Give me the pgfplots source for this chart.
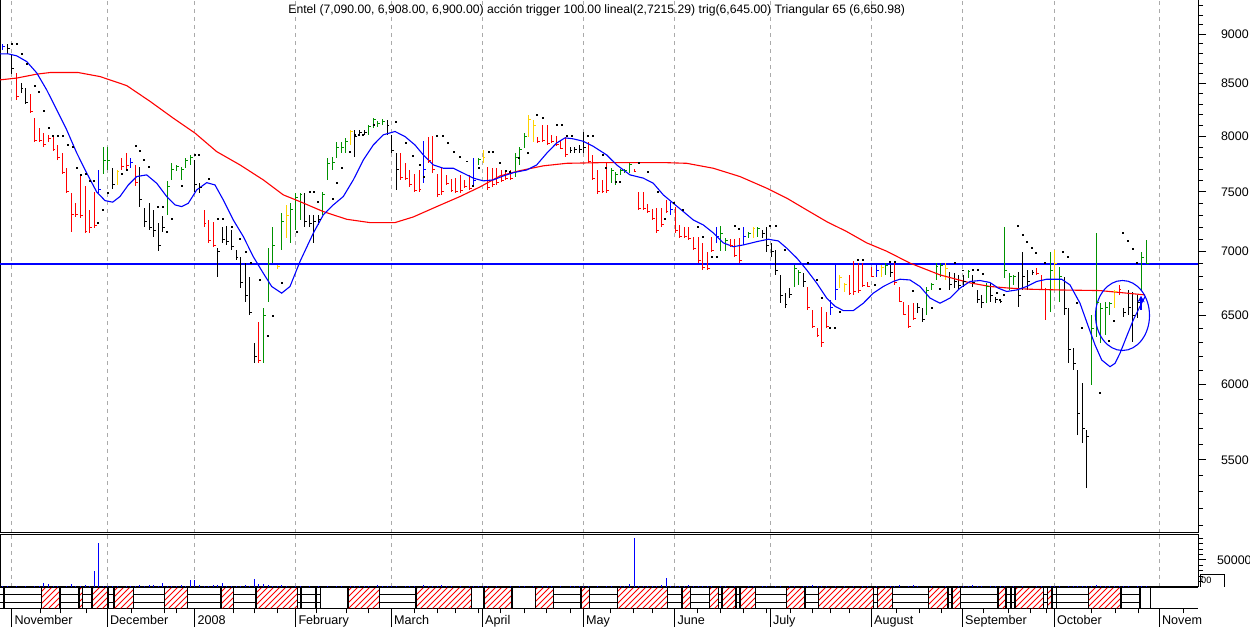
\documentclass[border=0pt]{standalone}
\usepackage{fontspec}
\setmainfont{Liberation Sans}
\usepackage{pgfplots}
\pgfplotsset{compat=1.18}
\usetikzlibrary{patterns,arrows.meta}
\definecolor{cgreen}{RGB}{0,145,0}
\definecolor{cyell}{RGB}{255,210,0}
\definecolor{cblue}{RGB}{0,0,255}
\definecolor{cred}{RGB}{255,0,0}
\definecolor{cgrid}{RGB}{170,170,170}
\pgfdeclareplotmark{rtick}{\pgfpathmoveto{\pgfqpoint{0pt}{0pt}}\pgfpathlineto{\pgfqpoint{1.2pt}{0pt}}\pgfusepathqstroke}
\pgfplotsset{
  barseg/.style={#1, line width=0.5pt, forget plot},
  barcls/.style={#1, only marks, mark=rtick, mark options={line width=0.5pt, #1}, forget plot},
}
\tikzset{mlab/.style={anchor=north west, inner sep=0pt, font=\fontsize{6.3}{7}\selectfont, xshift=1.2pt, yshift=-3.4pt}}
\begin{document}
\begin{tikzpicture}
\useasboundingbox (0,0) rectangle (625pt,313.5pt);
% ---------------- main price panel
\begin{axis}[
  at={(0pt,47pt)}, anchor=south west, scale only axis, width=599pt, height=266.5pt,
  xmin=0, xmax=1198, ymode=log, ymin=5054, ymax=9365,
  unbounded coords=jump,
  axis line style={line width=0.5pt},
  xtick={11.7,107.3,194.7,295.7,391.3,482.3,583.3,674.7,770.3,871.3,962.3,1054.3,1159.3},
  xticklabels={}, xmajorgrids,
  major x grid style={cgrid, line width=0.5pt, dash pattern=on 2pt off 2pt},
  x tick style={draw=none},
  ytick={5500,6000,6500,7000,7500,8000,8500,9000},
  yticklabels={5500,6000,6500,7000,7500,8000,8500,9000},
  minor ytick={5100,5200,5300,5400,5600,5700,5800,5900,6100,6200,6300,6400,6600,6700,6800,6900,7100,7200,7300,7400,7600,7700,7800,7900,8100,8200,8300,8400,8600,8700,8800,8900,9100,9200,9300},
  ytick pos=right, yticklabel pos=right, tick align=outside,
  y tick style={black, line width=0.5pt}, major tick length=4pt, minor tick length=2.5pt,
  yticklabel style={font=\fontsize{6.2}{7}\selectfont, anchor=west, xshift=4pt},
]
% horizontal line
\addplot[cblue, line width=0.7pt, forget plot] coordinates {(0,6900)(1198,6900)};
% stop-and-reverse dots
\addplot[black, only marks, mark=square*, mark size=0.24pt, forget plot] coordinates {
(12.3,8900)(16.7,8900)(21.7,8800)(26.7,8700)(35,8480)(39.3,8420)(44.3,8240)(48.7,8074)(53.3,8002)
(58.3,8002)(63.3,8002)(67.7,7919)(72.7,7903)(76.7,7708)(81,7649)(85.7,7658)(90,7598)(94.3,7598)
(98.3,7235)(103.3,7345)(107.7,7494)(121.7,7655)(126.7,7693)(135.7,7910)(140,7864)(144.3,7782)
(149.3,7723)(158.3,7373)(162.7,7373)(167.3,7160)(172.3,7273)(181.7,7554)(195,7828)(199.3,7828)
(209.3,7611)(218.3,7273)(222.7,7273)(231.7,7204)(240,7100)(246,7000)(250.7,6908)(260,6773)
(268.3,6350)(272.7,6497)(281.7,6747)(296.7,7160)(310,7497)(314,7497)(318.3,7410)(333.3,7436)
(336.7,7575)(341.7,7708)(350,7858)(355,8011)(359.3,8011)(363.3,8011)(374,8104)(396,8135)
(406,7935)(413.3,7819)(420,7738)(424,7629)(436.7,8002)(442.7,8002)(447.7,7935)(454,7858)
(460,7808)(466.7,7769)(473.3,7552)(478.7,7708)(489,7858)(493.3,7858)(500,7753)(505.7,7688)
(510,7679)(519,7801)(528.3,7844)(536.7,8198)(543.3,8167)(556.7,8104)(561.7,8104)(566.7,8005)
(571.7,8005)(588.3,8002)(593.3,8002)(603.3,7828)(606,7708)(616,7590)(620,7590)(639.3,7753)
(648.3,7673)(658.3,7497)(665,7273)(674,7402)(683.3,7345)(698.3,7204)(702.7,7122)(711.7,6958)
(716.7,6953)(735,7210)(739.3,7183)(770,7210)(776,7210)(785,7013)(808.3,6908)(816.7,6773)
(821.7,6632)(830,6405)(835,6405)(840,6530)(858.3,6932)(863.3,6932)(875,6734)(890,6913)(895,6913)
(912.7,6688)(931.7,6555)(940,6703)(955,6906)(962.7,6848)(973.3,6852)(978.3,6852)(982.7,6819)
(997.3,6672)(1000,6615)(1004,6657)(1018.3,7210)(1023.3,7136)(1027.3,7074)(1032.3,7029)(1036,6989)
(1045,6908)(1063.3,7000)(1067.7,6953)(1077.3,6595)(1081.7,6405)(1100,5945)(1109.3,6312)(1114.3,6460)
(1123.3,7149)(1128.3,7082)(1133.3,7019)(1137.3,6908)};
% red bars
\addplot[barseg=cred] table[x expr=2.7+4.575*(\thisrow{n}-1), y=y, row sep=\\]{n y\\
4 8342\\4 8607\\4 nan\\7 8217\\7 8400\\7 nan\\8 7946\\8 8170\\8 nan\\9 7946\\9 8076\\9 nan\\
10 7901\\10 8030\\10 nan\\11 7946\\11 8011\\11 nan\\12 7864\\12 7993\\12 nan\\13 7782\\13 7919\\13 nan\\
14 7658\\14 7846\\14 nan\\15 7491\\15 7711\\15 nan\\16 7160\\16 7491\\16 nan\\17 7286\\17 7405\\17 nan\\
18 7277\\18 7649\\18 nan\\19 7152\\19 7552\\19 nan\\20 7152\\20 7345\\20 nan\\21 7194\\21 7500\\21 nan\\
27 7693\\27 7801\\27 nan\\28 7702\\28 7846\\28 nan\\30 7552\\30 7738\\30 nan\\45 7202\\45 7345\\45 nan\\
46 7070\\46 7260\\46 nan\\47 7037\\47 7244\\47 nan\\57 6153\\57 6452\\57 nan\\88 7604\\88 7846\\88 nan\\
89 7604\\89 7756\\89 nan\\90 7543\\90 7693\\90 nan\\91 7500\\91 7658\\91 nan\\92 7500\\92 7693\\92 nan\\
94 7756\\94 7993\\94 nan\\95 7666\\95 8002\\95 nan\\96 7457\\96 7658\\96 nan\\97 7474\\97 7720\\97 nan\\
98 7560\\98 7649\\98 nan\\99 7500\\99 7614\\99 nan\\100 7491\\100 7622\\100 nan\\101 7491\\101 7649\\101 nan\\
102 7535\\102 7604\\102 nan\\103 7517\\103 7649\\103 nan\\107 7517\\107 7720\\107 nan\\108 7543\\108 7711\\108 nan\\
109 7560\\109 7711\\109 nan\\110 7587\\110 7693\\110 nan\\111 7604\\111 7675\\111 nan\\112 7604\\112 7693\\112 nan\\
118 7937\\118 7993\\118 nan\\119 7946\\119 8104\\119 nan\\120 7919\\120 8104\\120 nan\\121 7937\\121 8011\\121 nan\\
122 7910\\122 8002\\122 nan\\123 7883\\123 7965\\123 nan\\124 7810\\124 7993\\124 nan\\129 7756\\129 7946\\129 nan\\
130 7604\\130 7828\\130 nan\\131 7482\\131 7693\\131 nan\\132 7491\\132 7604\\132 nan\\133 7491\\133 7756\\133 nan\\
139 7675\\139 7702\\139 nan\\140 7345\\140 7500\\140 nan\\141 7345\\141 7500\\141 nan\\142 7320\\142 7396\\142 nan\\
143 7260\\143 7353\\143 nan\\144 7152\\144 7362\\144 nan\\145 7202\\145 7362\\145 nan\\146 7320\\146 7430\\146 nan\\
148 7152\\148 7370\\148 nan\\149 7111\\149 7219\\149 nan\\150 7111\\150 7202\\150 nan\\151 7094\\151 7202\\151 nan\\
152 7013\\152 7119\\152 nan\\153 6908\\153 7119\\153 nan\\154 6852\\154 7070\\154 nan\\155 6852\\155 6997\\155 nan\\
156 6997\\156 7119\\156 nan\\160 7037\\160 7102\\160 nan\\161 6956\\161 7102\\161 nan\\162 6908\\162 7111\\162 nan\\
177 6542\\177 6719\\177 nan\\178 6408\\178 6542\\178 nan\\179 6342\\179 6408\\179 nan\\180 6268\\180 6565\\180 nan\\
181 6408\\181 6527\\181 nan\\186 6657\\186 6813\\186 nan\\187 6657\\187 6924\\187 nan\\188 6672\\188 6908\\188 nan\\
189 6719\\189 6908\\189 nan\\190 6719\\190 6758\\190 nan\\191 6797\\191 6876\\191 nan\\196 6734\\196 6908\\196 nan\\
197 6603\\197 6719\\197 nan\\198 6505\\198 6603\\198 nan\\199 6408\\199 6580\\199 nan\\200 6467\\200 6595\\200 nan\\
227 6813\\227 6868\\227 nan\\228 6695\\228 6813\\228 nan\\229 6467\\229 6711\\229 nan\\245 6657\\245 6734\\245 nan\\
};
\addplot[barcls=cred] table[x expr=2.7+4.575*(\thisrow{n}-1), y=c, row sep=\\]{n c\\
4 8370\\7 8230\\8 7960\\9 7960\\10 7920\\11 7980\\12 7880\\13 7800\\14 7670\\15 7500\\16 7303\\17 7310\\
18 7300\\19 7160\\20 7200\\21 7210\\27 7720\\28 7730\\30 7580\\45 7230\\46 7090\\47 7050\\57 6170\\88 7630\\
89 7620\\90 7560\\91 7510\\92 7520\\94 7780\\95 7700\\96 7480\\97 7500\\98 7570\\99 7510\\100 7500\\101 7510\\
102 7550\\103 7530\\107 7540\\108 7560\\109 7580\\110 7600\\111 7620\\112 7620\\118 7950\\119 7960\\120 7930\\
121 7950\\122 7920\\123 7890\\124 7830\\129 7770\\130 7620\\131 7500\\132 7500\\133 7510\\139 7680\\140 7360\\
141 7360\\142 7330\\143 7270\\144 7170\\145 7220\\146 7330\\148 7170\\149 7120\\150 7120\\151 7110\\152 7020\\
153 6930\\154 6870\\155 6860\\156 7010\\160 7045\\161 6970\\162 6930\\177 6560\\178 6420\\179 6350\\180 6300\\
181 6420\\186 6670\\187 6680\\188 6690\\189 6730\\190 6725\\191 6800\\196 6750\\197 6610\\198 6510\\199 6420\\
200 6480\\227 6820\\228 6700\\229 6700\\245 6700\\
};
% black bars
\addplot[barseg=black] table[x expr=2.7+4.575*(\thisrow{n}-1), y=y, row sep=\\]{n y\\
2 8798\\2 8901\\2 nan\\3 8597\\3 8798\\3 nan\\5 8410\\5 8508\\5 nan\\6 8303\\6 8459\\6 nan\\
25 7526\\25 7711\\25 nan\\31 7370\\31 7720\\31 nan\\32 7202\\32 7362\\32 nan\\33 7177\\33 7405\\33 nan\\
34 7119\\34 7345\\34 nan\\35 7005\\35 7235\\35 nan\\36 7160\\36 7294\\36 nan\\43 7500\\43 7782\\43 nan\\
44 7491\\44 7578\\44 nan\\48 6797\\48 7029\\48 nan\\49 7070\\49 7202\\49 nan\\50 7053\\50 7210\\50 nan\\
51 7013\\51 7177\\51 nan\\52 6932\\52 7013\\52 nan\\53 6711\\53 6956\\53 nan\\54 6603\\54 6908\\54 nan\\
55 6505\\55 6797\\55 nan\\56 6153\\56 6297\\56 nan\\67 7202\\67 7491\\67 nan\\68 7202\\68 7303\\68 nan\\
69 7070\\69 7303\\69 nan\\70 7219\\70 7303\\70 nan\\78 7810\\78 8057\\78 nan\\79 8002\\79 8057\\79 nan\\
80 8011\\80 8057\\80 nan\\85 8011\\85 8151\\85 nan\\86 7846\\86 8011\\86 nan\\87 7517\\87 7846\\87 nan\\
125 7846\\125 7901\\125 nan\\126 7846\\126 7901\\126 nan\\127 7846\\127 7919\\127 nan\\128 7846\\128 8039\\128 nan\\
167 7111\\167 7177\\167 nan\\168 6997\\168 7202\\168 nan\\169 6956\\169 7070\\169 nan\\170 6813\\170 7013\\170 nan\\
171 6595\\171 6813\\171 nan\\172 6557\\172 6672\\172 nan\\173 6634\\173 6711\\173 nan\\176 6719\\176 6829\\176 nan\\
195 6797\\195 6892\\195 nan\\201 6520\\201 6595\\201 nan\\202 6452\\202 6557\\202 nan\\208 6695\\208 6837\\208 nan\\
209 6711\\209 6829\\209 nan\\210 6695\\210 6813\\210 nan\\211 6719\\211 6813\\211 nan\\213 6719\\213 6813\\213 nan\\
214 6595\\214 6695\\214 nan\\215 6557\\215 6657\\215 nan\\217 6603\\217 6750\\217 nan\\218 6595\\218 6641\\218 nan\\
219 6595\\219 6618\\219 nan\\223 6565\\223 6837\\223 nan\\224 6695\\224 6997\\224 nan\\225 6695\\225 6852\\225 nan\\
226 6813\\226 6852\\226 nan\\233 6505\\233 6797\\233 nan\\234 6153\\234 6557\\234 nan\\235 6103\\235 6261\\235 nan\\
236 5660\\236 6103\\236 nan\\237 5608\\237 6013\\237 nan\\238 5323\\238 5693\\238 nan\\246 6490\\246 6557\\246 nan\\
247 6505\\247 6695\\247 nan\\248 6304\\248 6680\\248 nan\\249 6482\\249 6657\\249 nan\\
};
\addplot[barcls=black] table[x expr=2.7+4.575*(\thisrow{n}-1), y=c, row sep=\\]{n c\\
2 8850\\3 8650\\5 8450\\6 8320\\25 7560\\31 7430\\32 7250\\33 7200\\34 7170\\35 7050\\36 7200\\43 7560\\
44 7540\\48 7000\\49 7100\\50 7080\\51 7040\\52 6950\\53 6750\\54 6650\\55 6520\\56 6200\\67 7250\\68 7230\\
69 7250\\70 7260\\78 8000\\79 8030\\80 8030\\85 8100\\86 7870\\87 7700\\125 7870\\126 7880\\127 7880\\128 7900\\
167 7150\\168 7050\\169 7000\\170 6850\\171 6650\\172 6580\\173 6660\\176 6760\\195 6830\\201 6560\\202 6470\\
208 6740\\209 6760\\210 6730\\211 6760\\213 6750\\214 6620\\215 6600\\217 6650\\218 6620\\219 6610\\223 6650\\
224 6800\\225 6760\\226 6830\\233 6550\\234 6250\\235 6150\\236 5800\\237 5700\\238 5650\\246 6520\\247 6560\\
248 6500\\249 6600\\
};
% green bars
\addplot[barseg=cgreen] table[x expr=2.7+4.575*(\thisrow{n}-1), y=y, row sep=\\]{n y\\
23 7658\\23 7901\\23 nan\\24 7693\\24 7901\\24 nan\\37 7303\\37 7596\\37 nan\\38 7604\\38 7756\\38 nan\\
39 7684\\39 7738\\39 nan\\40 7604\\40 7720\\40 nan\\41 7711\\41 7801\\41 nan\\42 7738\\42 7828\\42 nan\\
58 6153\\58 6557\\58 nan\\59 6603\\59 7029\\59 nan\\60 6908\\60 7202\\60 nan\\62 7013\\62 7320\\62 nan\\
64 7070\\64 7405\\64 nan\\65 7177\\65 7491\\65 nan\\66 7260\\66 7491\\66 nan\\71 7303\\71 7500\\71 nan\\
72 7604\\72 7801\\72 nan\\73 7693\\73 7810\\73 nan\\74 7801\\74 7946\\74 nan\\75 7846\\75 7946\\75 nan\\
76 7846\\76 7983\\76 nan\\81 8011\\81 8104\\81 nan\\82 8076\\82 8170\\82 nan\\83 8085\\83 8142\\83 nan\\
84 8104\\84 8161\\84 nan\\105 7738\\105 7801\\105 nan\\113 7631\\113 7846\\113 nan\\114 7738\\114 7901\\114 nan\\
115 7892\\115 8030\\115 nan\\134 7578\\134 7711\\134 nan\\135 7560\\135 7675\\135 nan\\136 7649\\136 7702\\136 nan\\
137 7666\\137 7702\\137 nan\\138 7666\\138 7756\\138 nan\\158 7005\\158 7210\\158 nan\\159 7005\\159 7111\\159 nan\\
164 7111\\164 7160\\164 nan\\166 7119\\166 7202\\166 nan\\174 6719\\174 6892\\174 nan\\175 6734\\175 6852\\175 nan\\
194 6813\\194 6908\\194 nan\\203 6505\\203 6719\\203 nan\\204 6695\\204 6750\\204 nan\\205 6773\\205 6908\\205 nan\\
206 6797\\206 6908\\206 nan\\212 6789\\212 6852\\212 nan\\216 6595\\216 6750\\216 nan\\220 6789\\220 7202\\220 nan\\
221 6695\\221 6829\\221 nan\\222 6734\\222 6813\\222 nan\\230 6527\\230 6997\\230 nan\\232 6603\\232 6876\\232 nan\\
239 6000\\239 6505\\239 nan\\240 6342\\240 7152\\240 nan\\241 6297\\241 6595\\241 nan\\242 6356\\242 6603\\242 nan\\
243 6505\\243 6603\\243 nan\\250 6695\\250 6997\\250 nan\\251 6900\\251 7094\\251 nan\\
};
\addplot[barcls=cgreen] table[x expr=2.7+4.575*(\thisrow{n}-1), y=c, row sep=\\]{n c\\
23 7780\\24 7780\\37 7550\\38 7700\\39 7720\\40 7700\\41 7780\\42 7800\\58 6500\\59 6900\\60 7050\\62 7250\\
64 7350\\65 7450\\66 7480\\71 7480\\72 7750\\73 7760\\74 7900\\75 7900\\76 7950\\81 8090\\82 8150\\83 8120\\
84 8140\\105 7790\\113 7800\\114 7880\\115 8000\\134 7690\\135 7650\\136 7690\\137 7690\\138 7740\\158 7150\\
159 7090\\164 7150\\166 7190\\174 6860\\175 6830\\194 6890\\203 6690\\204 6740\\205 6880\\206 6890\\212 6840\\
216 6720\\220 6850\\221 6800\\222 6800\\230 6850\\232 6800\\239 6400\\240 6600\\241 6550\\242 6560\\243 6590\\
250 6950\\251 6900\\
};
% yellow bars
\addplot[barseg=cyell] table[x expr=2.7+4.575*(\thisrow{n}-1), y=y, row sep=\\]{n y\\
26 7560\\26 7693\\26 nan\\61 6860\\61 6892\\61 nan\\63 7111\\63 7388\\63 nan\\77 7919\\77 8057\\77 nan\\
106 7756\\106 7873\\106 nan\\116 7993\\116 8198\\116 nan\\117 7946\\117 8151\\117 nan\\165 7111\\165 7202\\165 nan\\
184 6711\\184 6813\\184 nan\\185 6680\\185 6750\\185 nan\\193 6797\\193 6892\\193 nan\\207 6773\\207 6908\\207 nan\\
231 6695\\231 7013\\231 nan\\244 6557\\244 6695\\244 nan\\
};
\addplot[barcls=cyell] table[x expr=2.7+4.575*(\thisrow{n}-1), y=c, row sep=\\]{n c\\
26 7680\\61 6880\\63 7300\\77 8040\\106 7800\\116 8150\\117 8100\\165 7190\\184 6790\\185 6740\\193 6870\\
207 6860\\231 6900\\244 6680\\
};
% blue bars
\addplot[barseg=cblue] table[x expr=2.7+4.575*(\thisrow{n}-1), y=y, row sep=\\]{n y\\
1 8839\\1 8901\\1 nan\\22 7491\\22 7693\\22 nan\\29 7711\\29 7801\\29 nan\\93 7578\\93 7956\\93 nan\\
104 7560\\104 7801\\104 nan\\147 7303\\147 7413\\147 nan\\157 7070\\157 7202\\157 nan\\163 7053\\163 7202\\163 nan\\
182 6505\\182 6618\\182 nan\\183 6618\\183 6900\\183 nan\\192 6797\\192 6908\\192 nan\\
};
\addplot[barcls=cblue] table[x expr=2.7+4.575*(\thisrow{n}-1), y=c, row sep=\\]{n c\\
1 8870\\22 7520\\29 7760\\93 7700\\104 7600\\147 7350\\157 7120\\163 7120\\182 6560\\183 6700\\192 6850\\
};
% long moving average (red)
\addplot[cred, line width=0.55pt, forget plot] coordinates {
(0,8537)(16.7,8555)(36.7,8594)(50,8610)(78.3,8610)(100,8570)(126.7,8481)(150,8328)(173.3,8167)
(195,8027)(216.7,7858)(240,7738)(263.3,7604)(283.3,7474)(300,7416)(323.3,7331)(346.7,7266)
(370,7238)(395,7238)(413.3,7286)(436.7,7373)(460,7460)(480,7543)(500,7640)(520,7687)(543.3,7729)
(566.7,7753)(600,7758)(666.7,7758)(686.7,7753)(713.3,7708)(740,7634)(766.7,7532)(786.7,7446)
(806.7,7345)(826.7,7246)(846.7,7163)(866.7,7070)(886.7,7002)(910,6906)(940,6813)(970,6750)
(990,6722)(1010,6709)(1030,6701)(1060,6695)(1100,6690)(1126.7,6670)(1145,6657)};
% short moving average (blue)
\addplot[cblue, line width=0.55pt, forget plot] coordinates {
(0,8798)(8.3,8798)(16.7,8778)(26.7,8720)(36.7,8607)(46.7,8439)(56.7,8246)(66.7,8057)(76.7,7846)
(86.7,7666)(96.7,7500)(105,7425)(112.7,7411)(120,7460)(128.3,7560)(136.7,7634)(146.7,7649)
(156.7,7575)(166.7,7460)(175,7388)(181.7,7373)(188.3,7402)(196.7,7517)(206.7,7581)(215,7560)
(223.3,7430)(233.3,7260)(243.3,7122)(253.3,6958)(263.3,6826)(271.7,6722)(281.7,6670)(290,6722)
(300,6919)(313.3,7150)(323.3,7303)(333.3,7388)(343.3,7460)(353.3,7604)(363.3,7782)(373.3,7919)
(383.3,8011)(395,8042)(405,7996)(415,7919)(423.3,7828)(433.3,7738)(443.3,7708)(453.3,7708)
(463.3,7664)(473.3,7620)(483.3,7596)(493.3,7604)(503.3,7640)(513.3,7669)(526.7,7693)(536.7,7738)
(546.7,7843)(556.7,7937)(565,7984)(573.3,7975)(583.3,7952)(593.3,7906)(606.7,7828)(616.7,7738)
(630,7649)(643.3,7620)(653.3,7575)(663.3,7474)(673.3,7402)(683.3,7331)(693.3,7260)(703.3,7219)
(713.3,7152)(723.3,7070)(733.3,7039)(743.3,7053)(756.7,7080)(768.3,7100)(778.3,7086)(786.7,7027)
(796.7,6948)(806.7,6852)(816.7,6748)(826.7,6632)(835,6570)(843.3,6537)(853.3,6537)(863.3,6593)
(873.3,6670)(883.3,6722)(893.3,6761)(900,6779)(910,6773)(920,6722)(930,6632)(940,6593)(950,6632)
(960,6709)(970,6761)(980,6768)(990,6753)(998.3,6709)(1006.7,6683)(1016.7,6695)(1026.7,6722)
(1036.7,6761)(1046.7,6779)(1061.7,6779)(1070,6734)(1080,6593)(1088.3,6418)(1095,6283)
(1101.7,6174)(1110,6126)(1115,6150)(1120,6222)(1126.7,6345)(1133.3,6467)(1140,6568)(1145,6644)};
% annotations
\draw[cblue, line width=0.55pt] (axis cs:1122.5,6500) ellipse [x radius=13.5pt, y radius=17.5pt];
\draw[cblue, line width=1pt, -{Stealth[length=3.2pt,width=3.6pt]}] (axis cs:1141,6545) -- (axis cs:1141,6650);
\end{axis}
% ---------------- volume panel
\begin{axis}[
  at={(0pt,20pt)}, anchor=south west, scale only axis, width=599pt, height=26.5pt,
  xmin=0, xmax=1198, ymin=0, ymax=98000,
  axis line style={line width=0.5pt},
  xtick={11.7,107.3,194.7,295.7,391.3,482.3,583.3,674.7,770.3,871.3,962.3,1054.3,1159.3},
  xticklabels={}, xmajorgrids,
  major x grid style={cgrid, line width=0.5pt, dash pattern=on 2pt off 2pt},
  x tick style={draw=none}, scaled y ticks=false,
  ytick={50000}, yticklabels={50000},
  minor ytick={10000,20000,30000,40000,60000,70000,80000,90000},
  ytick pos=right, yticklabel pos=right, tick align=outside,
  y tick style={black, line width=0.5pt}, major tick length=4pt, minor tick length=2.5pt,
  yticklabel style={font=\fontsize{6.2}{7}\selectfont, anchor=west, xshift=2pt},
]
\addplot[cblue, ycomb, line width=0.5pt] table[x expr=2.7+4.575*(\thisrow{n}-1), y=v, row sep=\\]{n v\\
1 2200\\2 1500\\3 900\\4 1900\\5 600\\6 2500\\7 800\\8 1200\\9 2100\\10 7400\\
11 5500\\12 1400\\13 2300\\14 900\\15 1800\\16 5500\\17 1100\\18 2400\\19 3100\\20 2000\\
21 29000\\22 81500\\23 2400\\24 1300\\25 2200\\26 1900\\27 900\\28 2600\\29 1700\\30 2300\\
31 3400\\32 1900\\33 2800\\34 3300\\35 2600\\36 7400\\37 1800\\38 2200\\39 1200\\40 3000\\
41 2100\\42 13000\\43 13000\\44 3600\\45 2400\\46 1200\\47 2900\\48 3300\\49 7400\\50 2200\\
51 1500\\52 2600\\53 1900\\54 3800\\55 2500\\56 14300\\57 5500\\58 5500\\59 3800\\60 2100\\
61 1400\\62 2800\\63 1900\\64 900\\65 1200\\66 2400\\67 700\\68 1100\\69 800\\70 2000\\
71 600\\72 1300\\73 900\\74 1700\\75 2200\\76 800\\77 1500\\78 2600\\79 1100\\80 2300\\
81 1400\\82 900\\83 3100\\84 1800\\85 2600\\86 1200\\87 2000\\88 900\\89 2700\\90 1500\\
91 2400\\92 800\\93 3200\\94 1700\\95 1000\\96 2500\\97 2900\\98 1300\\99 2200\\100 700\\
101 2500\\102 800\\103 1600\\104 2700\\105 1100\\106 1900\\107 2100\\108 600\\109 2600\\110 900\\
111 700\\112 1600\\113 800\\114 2300\\115 1000\\116 900\\117 1500\\118 700\\119 1800\\120 1200\\
121 2100\\122 900\\123 2200\\124 800\\125 1100\\126 1700\\127 2300\\128 1000\\129 1400\\130 900\\
131 2500\\132 700\\133 1200\\134 1700\\135 900\\136 2300\\137 1400\\138 6100\\139 91000\\140 1800\\
141 1200\\142 2400\\143 1000\\144 1800\\145 3700\\146 16700\\147 2200\\148 1600\\149 2300\\150 1900\\
151 2800\\152 1300\\153 2100\\154 1700\\155 1900\\156 2500\\157 900\\158 2200\\159 1500\\160 800\\
161 2100\\162 900\\163 700\\164 1400\\165 2300\\166 900\\167 1200\\168 1800\\169 700\\170 2600\\
171 1100\\172 600\\173 2100\\174 1800\\175 900\\176 1300\\177 2400\\178 3100\\179 1500\\180 1900\\
181 1200\\182 900\\183 2400\\184 700\\185 1100\\186 800\\187 1700\\188 900\\189 2300\\190 1000\\
191 700\\192 1200\\193 900\\194 1600\\195 2500\\196 1900\\197 2800\\198 800\\199 1300\\200 3100\\
201 1600\\202 700\\203 900\\204 1200\\205 600\\206 800\\207 2000\\208 900\\209 600\\210 1300\\
211 2600\\212 1100\\213 3800\\214 2200\\215 1000\\216 900\\217 1700\\218 2500\\219 1300\\220 2200\\
221 700\\222 1100\\223 800\\224 2100\\225 900\\226 700\\227 2600\\228 1500\\229 900\\230 2400\\
231 1800\\232 2200\\233 900\\234 1500\\235 2600\\236 1800\\237 2700\\238 1400\\239 2300\\240 3200\\
241 2200\\242 1600\\243 2500\\244 1200\\245 1900\\246 2600\\247 1700\\248 900\\249 2400\\250 1300\\
251 1500\\
};
\end{axis}
% ---------------- indicator strip and month axis
\begin{axis}[
  at={(0pt,9.35pt)}, anchor=south west, scale only axis, width=599pt, height=10.5pt,
  xmin=0, xmax=1198, ymin=0, ymax=21,
  axis x line*=bottom, axis y line=none, axis line style={line width=0.6pt},
  xtick={11.7,107.3,194.7,295.7,391.3,482.3,583.3,674.7,770.3,871.3,962.3,1054.3,1159.3},
  xticklabels={},
  minor xtick={40.7,60.7,86,131.7,164.3,176.7,233.3,254.3,277.7,316,346.7,368.3,414,437.3,455.3,478,500.7,524.7,546,570,610.7,633,652.3,697.3,720,743.3,766.7,790,812.7,830.7,849.3,896.7,919.3,941.7,983.3,1008.3,1030,1046.7,1091.7,1115,1138.3,1183.3},
  tick align=outside, major tick length=9.4pt, minor tick length=2.6pt,
  x tick style={black, line width=0.5pt},
  clip=false, unbounded coords=jump,
]
\addplot[draw=none, pattern=north east lines, pattern color=cred, forget plot] table[row sep=\\]{x y\\
41.3 0\\41.3 21\\59.7 21\\59.7 0\\nan nan\\78.7 0\\78.7 21\\82.3 21\\82.3 0\\nan nan\\
91.7 0\\91.7 21\\107.7 21\\107.7 0\\nan nan\\114 0\\114 21\\133.3 21\\133.3 0\\nan nan\\
164.3 0\\164.3 21\\187.3 21\\187.3 0\\nan nan\\220.7 0\\220.7 21\\233.3 21\\233.3 0\\nan nan\\
256 0\\256 21\\297.3 21\\297.3 0\\nan nan\\347.7 0\\347.7 21\\379.3 21\\379.3 0\\nan nan\\
416 0\\416 21\\471.3 21\\471.3 0\\nan nan\\484 0\\484 21\\512 21\\512 0\\nan nan\\
535.3 0\\535.3 21\\553.3 21\\553.3 0\\nan nan\\580.7 0\\580.7 21\\589.3 21\\589.3 0\\nan nan\\
617.3 0\\617.3 21\\667.3 21\\667.3 0\\nan nan\\681.7 0\\681.7 21\\690.3 21\\690.3 0\\nan nan\\
709.3 0\\709.3 21\\718.3 21\\718.3 0\\nan nan\\722 0\\722 21\\736 21\\736 0\\nan nan\\
740 0\\740 21\\755.3 21\\755.3 0\\nan nan\\786.3 0\\786.3 21\\805 21\\805 0\\nan nan\\
818.3 0\\818.3 21\\873.3 21\\873.3 0\\nan nan\\877.3 0\\877.3 21\\892.3 21\\892.3 0\\nan nan\\
928.3 0\\928.3 21\\947.7 21\\947.7 0\\nan nan\\951.7 0\\951.7 21\\960.3 21\\960.3 0\\nan nan\\
997.7 0\\997.7 21\\1006 21\\1006 0\\nan nan\\1015 0\\1015 21\\1043.3 21\\1043.3 0\\nan nan\\
1047.3 0\\1047.3 21\\1052 21\\1052 0\\nan nan\\1088.3 0\\1088.3 21\\1120.7 21\\1120.7 0\\nan nan\\
};
\addplot[black, line width=0.5pt, forget plot] table[row sep=\\]{x y\\
0 6\\41.3 6\\nan nan\\0 13.5\\41.3 13.5\\nan nan\\59.7 6\\78.7 6\\nan nan\\59.7 13.5\\78.7 13.5\\nan nan\\
82.3 6\\91.7 6\\nan nan\\82.3 13.5\\91.7 13.5\\nan nan\\107.7 6\\114 6\\nan nan\\107.7 13.5\\114 13.5\\nan nan\\
133.3 6\\164.3 6\\nan nan\\133.3 13.5\\164.3 13.5\\nan nan\\187.3 6\\220.7 6\\nan nan\\187.3 13.5\\220.7 13.5\\nan nan\\
233.3 6\\256 6\\nan nan\\233.3 13.5\\256 13.5\\nan nan\\297.3 6\\320.3 6\\nan nan\\297.3 13.5\\320.3 13.5\\nan nan\\
379.3 6\\416 6\\nan nan\\379.3 13.5\\416 13.5\\nan nan\\553.3 6\\580.7 6\\nan nan\\553.3 13.5\\580.7 13.5\\nan nan\\
589.3 6\\617.3 6\\nan nan\\589.3 13.5\\617.3 13.5\\nan nan\\667.3 6\\681.7 6\\nan nan\\667.3 13.5\\681.7 13.5\\nan nan\\
690.3 6\\709.3 6\\nan nan\\690.3 13.5\\709.3 13.5\\nan nan\\718.3 6\\722 6\\nan nan\\718.3 13.5\\722 13.5\\nan nan\\
736 6\\740 6\\nan nan\\736 13.5\\740 13.5\\nan nan\\755.3 6\\786.3 6\\nan nan\\755.3 13.5\\786.3 13.5\\nan nan\\
805 6\\818.3 6\\nan nan\\805 13.5\\818.3 13.5\\nan nan\\873.3 6\\877.3 6\\nan nan\\873.3 13.5\\877.3 13.5\\nan nan\\
892.3 6\\928.3 6\\nan nan\\892.3 13.5\\928.3 13.5\\nan nan\\947.7 6\\951.7 6\\nan nan\\947.7 13.5\\951.7 13.5\\nan nan\\
960.3 6\\997.7 6\\nan nan\\960.3 13.5\\997.7 13.5\\nan nan\\1006 6\\1015 6\\nan nan\\1006 13.5\\1015 13.5\\nan nan\\
1043.3 6\\1047.3 6\\nan nan\\1043.3 13.5\\1047.3 13.5\\nan nan\\1052 6\\1088.3 6\\nan nan\\1052 13.5\\1088.3 13.5\\nan nan\\
1120.7 6\\1139.7 6\\nan nan\\1120.7 13.5\\1139.7 13.5\\nan nan\\
};
\addplot[black, line width=0.8pt, forget plot] table[row sep=\\]{x y\\
4.3 0\\4.3 21\\nan nan\\41.3 0\\41.3 21\\nan nan\\59.7 0\\59.7 21\\nan nan\\78.7 0\\78.7 21\\nan nan\\
82.3 0\\82.3 21\\nan nan\\91.7 0\\91.7 21\\nan nan\\107.7 0\\107.7 21\\nan nan\\114 0\\114 21\\nan nan\\
133.3 0\\133.3 21\\nan nan\\164.3 0\\164.3 21\\nan nan\\187.3 0\\187.3 21\\nan nan\\220.7 0\\220.7 21\\nan nan\\
233.3 0\\233.3 21\\nan nan\\256 0\\256 21\\nan nan\\297.3 0\\297.3 21\\nan nan\\301 0\\301 21\\nan nan\\
316 0\\316 21\\nan nan\\320.3 0\\320.3 21\\nan nan\\347.7 0\\347.7 21\\nan nan\\379.3 0\\379.3 21\\nan nan\\
416 0\\416 21\\nan nan\\471.3 0\\471.3 21\\nan nan\\484 0\\484 21\\nan nan\\512 0\\512 21\\nan nan\\
535.3 0\\535.3 21\\nan nan\\553.3 0\\553.3 21\\nan nan\\580.7 0\\580.7 21\\nan nan\\589.3 0\\589.3 21\\nan nan\\
617.3 0\\617.3 21\\nan nan\\667.3 0\\667.3 21\\nan nan\\681.7 0\\681.7 21\\nan nan\\690.3 0\\690.3 21\\nan nan\\
709.3 0\\709.3 21\\nan nan\\718.3 0\\718.3 21\\nan nan\\722 0\\722 21\\nan nan\\736 0\\736 21\\nan nan\\
740 0\\740 21\\nan nan\\755.3 0\\755.3 21\\nan nan\\786.3 0\\786.3 21\\nan nan\\805 0\\805 21\\nan nan\\
818.3 0\\818.3 21\\nan nan\\873.3 0\\873.3 21\\nan nan\\877.3 0\\877.3 21\\nan nan\\892.3 0\\892.3 21\\nan nan\\
928.3 0\\928.3 21\\nan nan\\947.7 0\\947.7 21\\nan nan\\951.7 0\\951.7 21\\nan nan\\960.3 0\\960.3 21\\nan nan\\
997.7 0\\997.7 21\\nan nan\\1006 0\\1006 21\\nan nan\\1010.7 0\\1010.7 21\\nan nan\\1015 0\\1015 21\\nan nan\\
1043.3 0\\1043.3 21\\nan nan\\1047.3 0\\1047.3 21\\nan nan\\1052 0\\1052 21\\nan nan\\1056.3 0\\1056.3 21\\nan nan\\
1088.3 0\\1088.3 21\\nan nan\\1120.7 0\\1120.7 21\\nan nan\\1139.7 0\\1139.7 21\\nan nan\\1150.3 0\\1150.3 21\\nan nan\\
};
\addplot[black, line width=0.5pt, forget plot] coordinates {(0,21)(1198,21)};
\node[mlab] at (axis cs:11.7,0) {November};
\node[mlab] at (axis cs:107.3,0) {December};
\node[mlab] at (axis cs:194.7,0) {2008};
\node[mlab] at (axis cs:295.7,0) {February};
\node[mlab] at (axis cs:391.3,0) {March};
\node[mlab] at (axis cs:482.3,0) {April};
\node[mlab] at (axis cs:583.3,0) {May};
\node[mlab] at (axis cs:674.7,0) {June};
\node[mlab] at (axis cs:770.3,0) {July};
\node[mlab] at (axis cs:871.3,0) {August};
\node[mlab] at (axis cs:962.3,0) {September};
\node[mlab] at (axis cs:1054.3,0) {October};
\node[mlab] at (axis cs:1159.3,0) {Novem};
\end{axis}
% small box at the right of the volume panel
\draw[line width=0.5pt] (600pt,20pt) -- (600pt,26pt) -- (612pt,26pt) -- (612pt,20pt);
\node[anchor=west, inner sep=0pt, font=\fontsize{4.6}{5}\selectfont] at (600.4pt,23.2pt) {00};
% title
\node[anchor=west, inner sep=0pt, font=\fontsize{6.1}{7}\selectfont] at (144pt,308.5pt) {Entel (7,090.00, 6,908.00, 6,900.00) acción trigger 100.00 lineal(2,7215.29) trig(6,645.00) Triangular 65 (6,650.98)};
\end{tikzpicture}
\end{document}
